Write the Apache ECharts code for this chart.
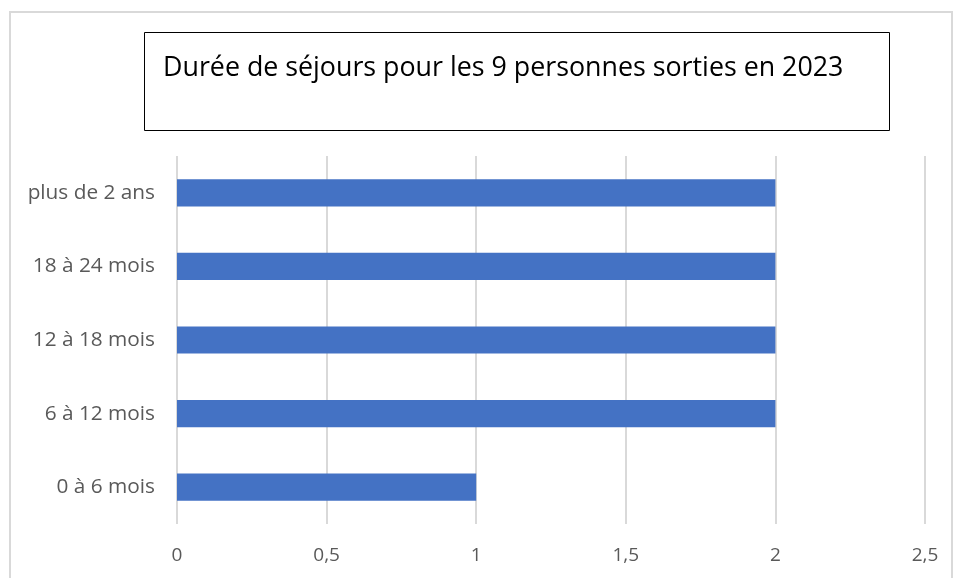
<!DOCTYPE html>
<html><head><meta charset="utf-8">
<script src="https://cdn.jsdelivr.net/npm/echarts@6/dist/echarts.min.js"></script>
<style>html,body{margin:0;padding:0;background:#fff}#c{width:958px;height:578px}</style>
</head><body><div id="c"></div>
<script>
const categories = ['0 à 6 mois','6 à 12 mois','12 à 18 mois','18 à 24 mois','plus de 2 ans'];
const values = [1,2,2,2,2];
const titleText = 'Durée de séjours pour les 9 personnes sorties en 2023';

const chart = echarts.init(document.getElementById('c'));
chart.setOption({
  animation:false,
  backgroundColor:'#fff',
  graphic:[
    {type:'rect',shape:{x:10,y:12,width:942,height:600},style:{fill:'none',stroke:'#d9d9d9',lineWidth:2},silent:true},
    {type:'rect',shape:{x:144.5,y:32.5,width:745,height:98},style:{fill:'#fff',stroke:'#000',lineWidth:1},silent:true}
  ],
  title:{text:titleText,left:163,top:55,padding:0,textStyle:{fontFamily:'Open Sans',fontWeight:'normal',fontSize:26.8,color:'#000'}},
  grid:{left:177,right:33,top:156,bottom:54},
  xAxis:{type:'value',min:0,max:2.5,interval:0.5,
    axisLine:{show:false},axisTick:{show:false},
    splitLine:{lineStyle:{color:'#d9d9d9',width:2}},
    axisLabel:{margin:22,color:'#595959',fontFamily:'Open Sans',fontSize:19,formatter:v=>String(v).replace('.',',')}},
  yAxis:{type:'category',data:categories,
    axisLine:{show:false},axisTick:{show:false},
    axisLabel:{margin:22,color:'#595959',fontFamily:'Open Sans',fontSize:20.8}},
  series:[{type:'bar',data:values,barCategoryGap:'63%',itemStyle:{color:'#4472C4'}}]
});
</script></body></html>
